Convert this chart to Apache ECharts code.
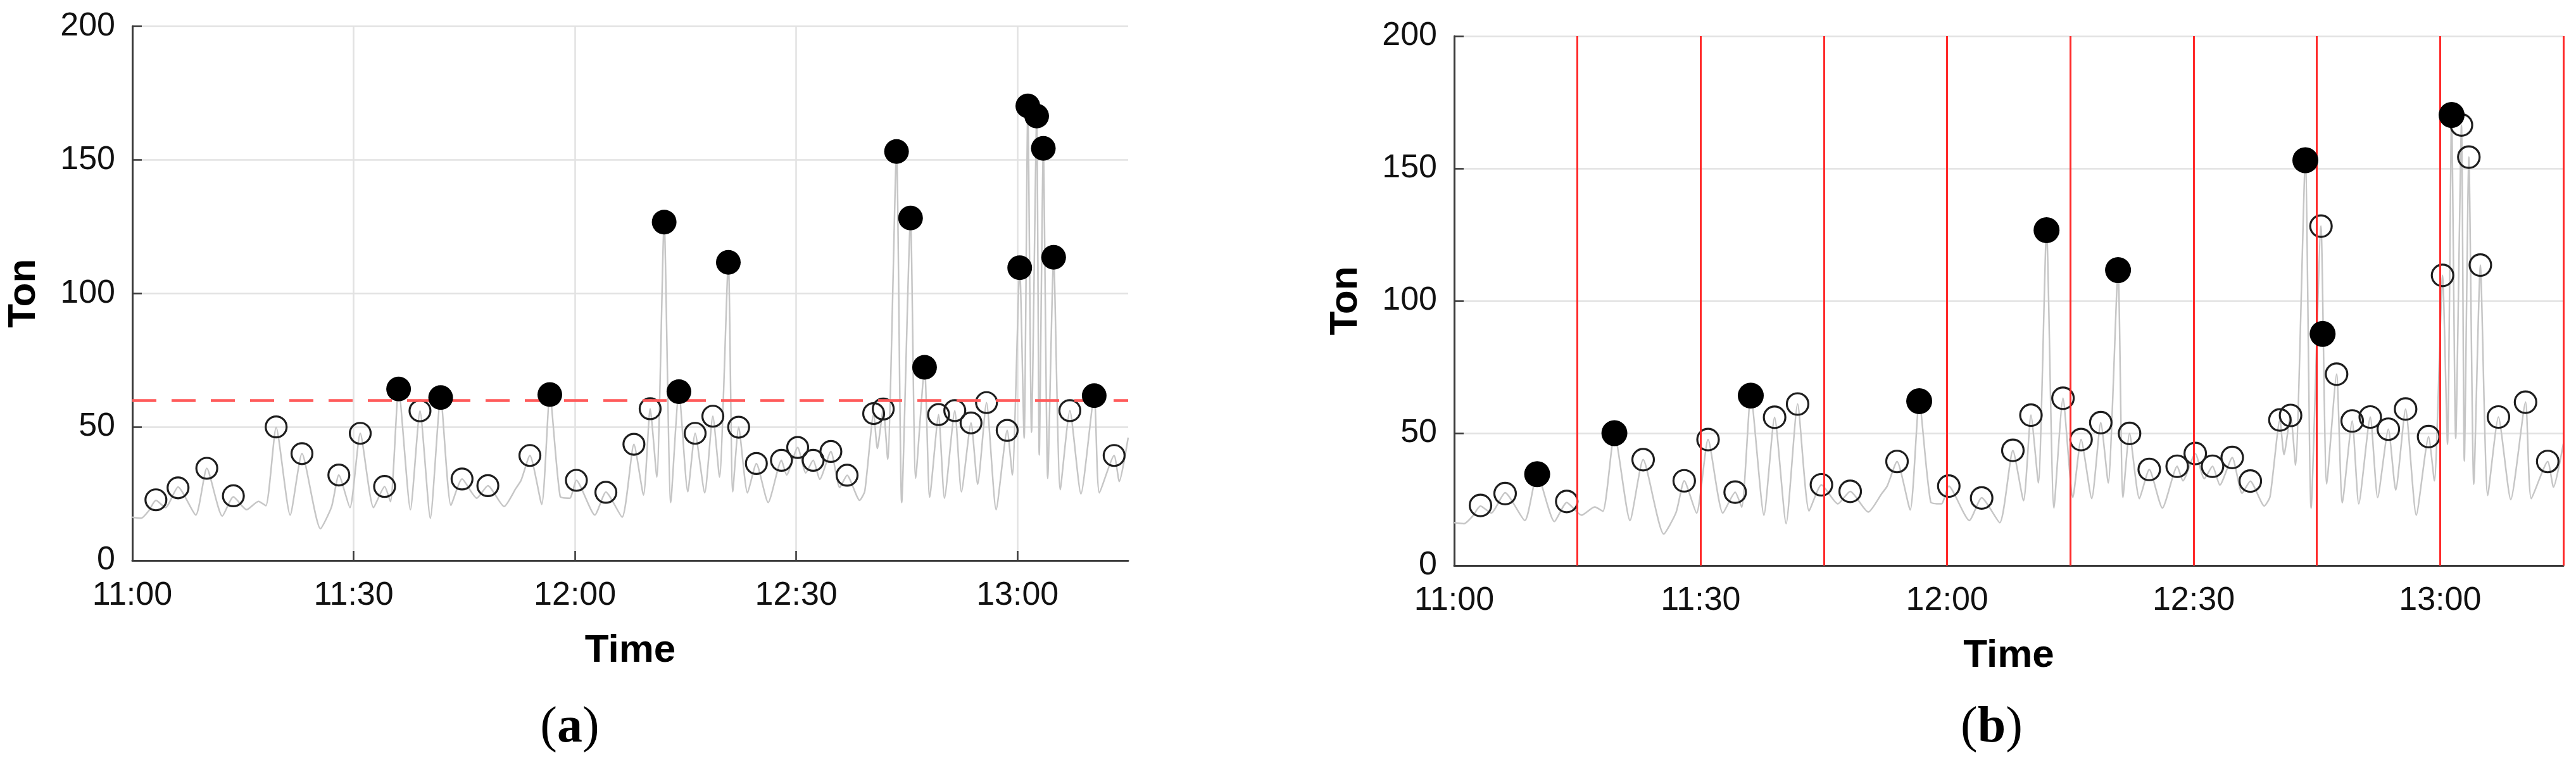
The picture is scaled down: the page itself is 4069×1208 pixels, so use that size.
<!DOCTYPE html>
<html><head><meta charset="utf-8">
<script src="https://cdn.jsdelivr.net/npm/echarts@6/dist/echarts.min.js"></script>
<style>html,body{margin:0;padding:0;background:#fff;}#c{width:4069px;height:1208px;}</style>
</head><body><div id="c"></div>
<script>
// ---- data (minutes after 11:00, tons) ----
const lineMinutes = [0,1.2,2.2,3.2,4.5,6.2,8.6,10.1,12.2,13.7,15.5,17.1,18.1,19.5,21.4,23.0,25.5,27.0,28.0,29.5,30.9,32.7,34.2,35.0,36.1,37.7,39.0,40.4,41.8,43.2,44.7,46.7,48.2,50.4,52.0,52.7,53.9,55.5,56.6,58.0,59.3,60.2,62.7,64.2,66.4,68.0,69.3,70.2,71.1,72.1,73.0,74.1,75.3,76.3,77.6,78.7,79.6,80.8,81.4,82.2,83.4,84.6,86.2,88.0,88.7,90.2,91.3,92.3,93.2,94.7,95.9,96.9,98.6,99.3,100.5,101.0,101.8,102.4,103.6,104.3,105.5,106.2,107.4,108.1,109.3,110.1,111.5,112.4,113.7,114.6,115.8,117.1,118.6,119.3,120.3,120.9,121.4,121.9,122.6,122.95,123.5,124.1,124.9,125.8,127.1,128.6,130.4,131.1,133.1,133.8,135.0];
const lineTon = [16.2,15.8,18.5,22.5,19.8,27.5,17,34.5,16.6,23.8,19,22.1,20.5,49.8,17,40,11.9,20,32,19.8,47.6,19.8,27.7,22,64.2,19,56,15.8,61,20.6,30.5,23.3,28,20.2,27,30,39.3,21,62.1,24,23.3,30,17,25.6,16.2,43.5,24.5,56.8,31.2,126.7,21.7,63.2,25.7,47.6,25.3,54,31.2,111.6,25.7,49.9,25.3,36.3,21.7,37.5,32,42.3,32.8,37.5,30.4,40.8,27.3,31.9,22.5,26,55,41.9,56.7,37.9,153.1,21.7,128.2,30.8,72.3,23.7,54.6,23.3,56.1,25.7,51.5,28.5,59.1,19,48.7,32,109.6,45.8,170.2,48,166.4,39.5,154.3,30.7,113.5,26.5,56.1,24.9,61.7,25.3,39.3,29.6,46];
const peakMinutes = [3.2,6.2,10.1,13.7,19.5,23.0,28.0,30.9,34.2,36.1,39.0,41.8,44.7,48.2,53.9,56.6,60.2,64.2,68.0,70.2,72.1,74.1,76.3,78.7,80.8,82.2,84.6,88.0,90.2,92.3,94.7,96.9,100.5,101.8,103.6,105.5,107.4,109.3,111.5,113.7,115.8,118.6,120.3,121.4,122.6,123.5,124.9,127.1,130.4,133.1];
const peakTon = [22.7,27.2,34.5,24.2,50,40,32,47.6,27.7,64.2,56,61,30.5,28,39.3,62.1,30,25.5,43.5,56.8,126.7,63.2,47.6,54,111.6,49.9,36.3,37.5,42.3,37.5,40.8,31.9,55,56.7,153.1,128.2,72.3,54.6,56.1,51.5,59.1,48.7,109.6,170.2,166.4,154.3,113.5,56.1,61.7,39.3];
const highA = [0,0,0,0,0,0,0,0,0,1,0,1,0,0,0,1,0,0,0,0,1,1,0,0,1,0,0,0,0,0,0,0,0,0,1,1,1,0,0,0,0,0,1,1,1,1,1,0,1,0];
const highB = [0,0,1,0,1,0,0,0,0,1,0,0,0,0,0,1,0,0,0,0,1,0,0,0,1,0,0,0,0,0,0,0,0,0,1,0,0,0,0,0,0,0,0,1,0,0,0,0,0,0];
const extraBMinutes = [105.7];
const extraBTon = [87.5];
const thresholdA = 60;
const windowEdgesB = [15,30,45,60,75,90,105,120,135];
const xTickLabels = ['11:00','11:30','12:00','12:30','13:00'];
const panelLabels = ['a','b'];

// ---- build ----
const line = lineMinutes.map((m,i)=>[m,lineTon[i]]);
function pick(flags, want){ return peakMinutes.map((m,i)=>[m,peakTon[i],flags[i]]).filter(d=>d[2]===want).map(d=>[d[0],d[1]]); }
const openA = pick(highA,0), fillA = pick(highA,1);
const openB = pick(highB,0), fillB = pick(highB,1).concat(extraBMinutes.map((m,i)=>[m,extraBTon[i]]));

const TXT = '#111', AX = '#3a3a3a', GRID = '#e2e2e2';
const tickFont = {fontFamily:'Liberation Sans, Arial, sans-serif', fontSize:52, color:TXT};
const nameFont = {fontFamily:'Liberation Sans, Arial, sans-serif', fontSize:62, fontWeight:'bold', color:'#000'};

function xAxis(gi, split){
  return {type:'value', gridIndex:gi, min:0, max:135, interval:30,
    name:'Time', nameLocation:'middle', nameGap:112, nameTextStyle:nameFont,
    axisLine:{show:true, lineStyle:{color:AX, width:3}},
    axisTick:{show:true, inside:true, length:15, lineStyle:{color:AX, width:2.5}},
    axisLabel:Object.assign({margin:30, showMaxLabel:false, formatter:v=> (v%30===0 && xTickLabels[v/30]) ? xTickLabels[v/30] : ''}, tickFont),
    splitLine:{show:split, showMinLine:false, showMaxLine:false, lineStyle:{color:GRID, width:2.5}}};
}
function yAxis(gi){
  return {type:'value', gridIndex:gi, min:0, max:200, interval:50,
    name:'Ton', nameLocation:'middle', nameGap:140, nameRotate:90, nameTextStyle:nameFont,
    axisLine:{show:true, lineStyle:{color:AX, width:3}},
    axisTick:{show:true, inside:true, length:15, lineStyle:{color:AX, width:2.5}},
    axisLabel:Object.assign({margin:27}, tickFont),
    splitLine:{show:true, showMinLine:false, lineStyle:{color:GRID, width:2.5}}};
}
const lineStyle = {color:'#c6c6c6', width:2.5};
function grayLine(gi, markLine){
  return {type:'line', xAxisIndex:gi, yAxisIndex:gi, data:line, showSymbol:false, smooth:0.2,
    lineStyle:lineStyle, silent:true, z:2, markLine:markLine};
}
function openSeries(gi, data, size){
  return {type:'scatter', xAxisIndex:gi, yAxisIndex:gi, data:data, symbol:'circle', symbolSize:size,
    itemStyle:{color:'rgba(0,0,0,0)', borderColor:'#1e1e1e', borderWidth:3.2, opacity:1}, z:4, silent:true};
}
function fillSeries(gi, data, size){
  return {type:'scatter', xAxisIndex:gi, yAxisIndex:gi, data:data, symbol:'circle', symbolSize:size,
    itemStyle:{color:'#000', opacity:1}, z:5, silent:true};
}

const option = {
  animation:false, backgroundColor:'#fff',
  grid:[{left:209, top:41.5, width:1573, height:843.5},
        {left:2297, top:57, width:1752, height:836}],
  xAxis:[xAxis(0,true), xAxis(1,false)],
  yAxis:[yAxis(0), yAxis(1)],
  series:[
    grayLine(0, {silent:true, symbol:['none','none'], label:{show:false},
      lineStyle:{color:'#ff5a5a', width:4.5, type:[38,24], opacity:1}, emphasis:{disabled:true},
      data:[{yAxis:thresholdA}]}),
    openSeries(0, openA, 33), fillSeries(0, fillA, 39),
    grayLine(1, {silent:true, symbol:['none','none'], label:{show:false},
      lineStyle:{color:'#ff2a2a', width:3, type:'solid', opacity:1}, emphasis:{disabled:true},
      data:windowEdgesB.map(v=>({xAxis:v}))}),
    openSeries(1, openB, 34), fillSeries(1, fillB, 41)
  ],
  graphic:[
    {type:'text', x:900, y:1150, style:{text:'{p|(}{b|'+panelLabels[0]+'}{p|)}', align:'center', verticalAlign:'middle',
      rich:{p:{fontFamily:'Liberation Serif, Times New Roman, serif', fontSize:80, fill:'#000'},
            b:{fontFamily:'Liberation Serif, Times New Roman, serif', fontSize:80, fontWeight:'bold', fill:'#000'}}}},
    {type:'text', x:3146, y:1150, style:{text:'{p|(}{b|'+panelLabels[1]+'}{p|)}', align:'center', verticalAlign:'middle',
      rich:{p:{fontFamily:'Liberation Serif, Times New Roman, serif', fontSize:80, fill:'#000'},
            b:{fontFamily:'Liberation Serif, Times New Roman, serif', fontSize:80, fontWeight:'bold', fill:'#000'}}}}
  ]
};
const chart = echarts.init(document.getElementById('c'), null, {renderer:'canvas'});
chart.setOption(option);
</script></body></html>
